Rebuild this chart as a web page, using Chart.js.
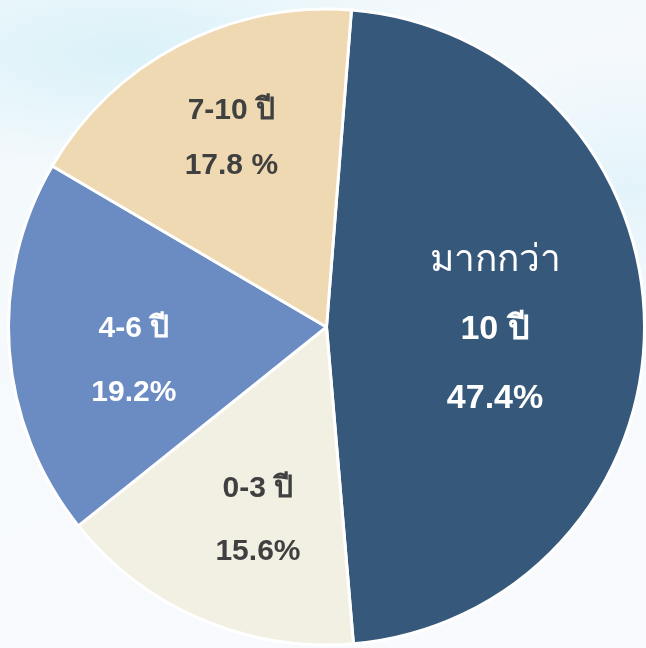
<!DOCTYPE html>
<html>
<head>
<meta charset="utf-8">
<script src="https://cdn.jsdelivr.net/npm/chart.js@4.4.1/dist/chart.umd.min.js"></script>
<style>
  html, body {
    margin: 0;
    padding: 0;
    width: 646px;
    height: 648px;
    overflow: hidden;
    background:
      radial-gradient(ellipse 300px 110px at 130px 55px, rgba(205, 238, 247, 0.65), rgba(255,255,255,0) 100%),
      radial-gradient(ellipse 180px 140px at 630px 190px, rgba(210, 238, 247, 0.55), rgba(255,255,255,0) 100%),
      linear-gradient(160deg, #f0f8fb 0%, #f7fafd 45%, #f8fafd 100%);
  }
  #wrap { position: relative; width: 646px; height: 648px; }
</style>
</head>
<body>
<div id="wrap"><canvas id="pie-chart" width="646" height="648"></canvas></div>
<script>
const categories = ["มากกว่า 10 ปี", "0-3 ปี", "4-6 ปี", "7-10 ปี"];
const shares = [47.4, 15.6, 19.2, 17.8];
const sliceColors = ["#36587a", "#f2efe3", "#6b8bc3", "#efd9b2"];
const labelLines = [["มากกว่า", "10 ปี"], ["0-3 ปี"], ["4-6 ปี"], ["7-10 ปี"]];
const pctSpacer = ["", "", "", " "];

// label placement tweaks (fraction of radius, degree shift)
const labelRadius = [0.53, 0.645, 0.615, 0.665];
const labelShift = [1.2, -3.7, -5.8, 0.8];
const labelColor = ["#ffffff", "#404040", "#ffffff", "#404040"];
const labelGap = [69, 63, 64, 55];

const sliceLabels = {
  id: "sliceLabels",
  afterDatasetsDraw(chart) {
    const ctx = chart.ctx;
    const meta = chart.getDatasetMeta(0);
    meta.data.forEach((arc, i) => {
      const p = arc.getProps(["x", "y", "startAngle", "endAngle", "outerRadius"], true);
      const mid = (p.startAngle + p.endAngle) / 2 + labelShift[i] * Math.PI / 180;
      const r = p.outerRadius * labelRadius[i];
      const cx = p.x + Math.cos(mid) * r;
      const cy = p.y + Math.sin(mid) * r;
      const lines = labelLines[i].concat([shares[i].toFixed(1) + pctSpacer[i] + "%"]);
      const gap = labelGap[i];
      const top = cy - gap * (lines.length - 1) / 2;
      ctx.save();
      ctx.fillStyle = labelColor[i];
      ctx.textAlign = "center";
      ctx.textBaseline = "middle";
      lines.forEach((txt, k) => {
        let font;
        if (i === 0) {
          font = k === 0 ? "normal 37px 'Liberation Sans', 'Noto Sans', sans-serif"
                         : "bold 34px 'Liberation Sans', 'Noto Sans', sans-serif";
        } else {
          font = "bold 30px 'Liberation Sans', 'Noto Sans', sans-serif";
        }
        ctx.font = font;
        ctx.fillText(txt, cx, top + gap * k);
      });
      ctx.restore();
    });
  }
};

const ctx = document.getElementById("pie-chart").getContext("2d");
new Chart(ctx, {
  type: "pie",
  data: {
    labels: categories,
    datasets: [{
      data: shares,
      backgroundColor: sliceColors,
      borderColor: "#ffffff",
      borderWidth: 3
    }]
  },
  options: {
    responsive: false,
    maintainAspectRatio: false,
    animation: false,
    rotation: 4.5,
    layout: { padding: { left: 7, right: 0, top: 6, bottom: 0 } },
    plugins: {
      legend: { display: false },
      tooltip: { enabled: false }
    }
  },
  plugins: [sliceLabels]
});
</script>
</body>
</html>
